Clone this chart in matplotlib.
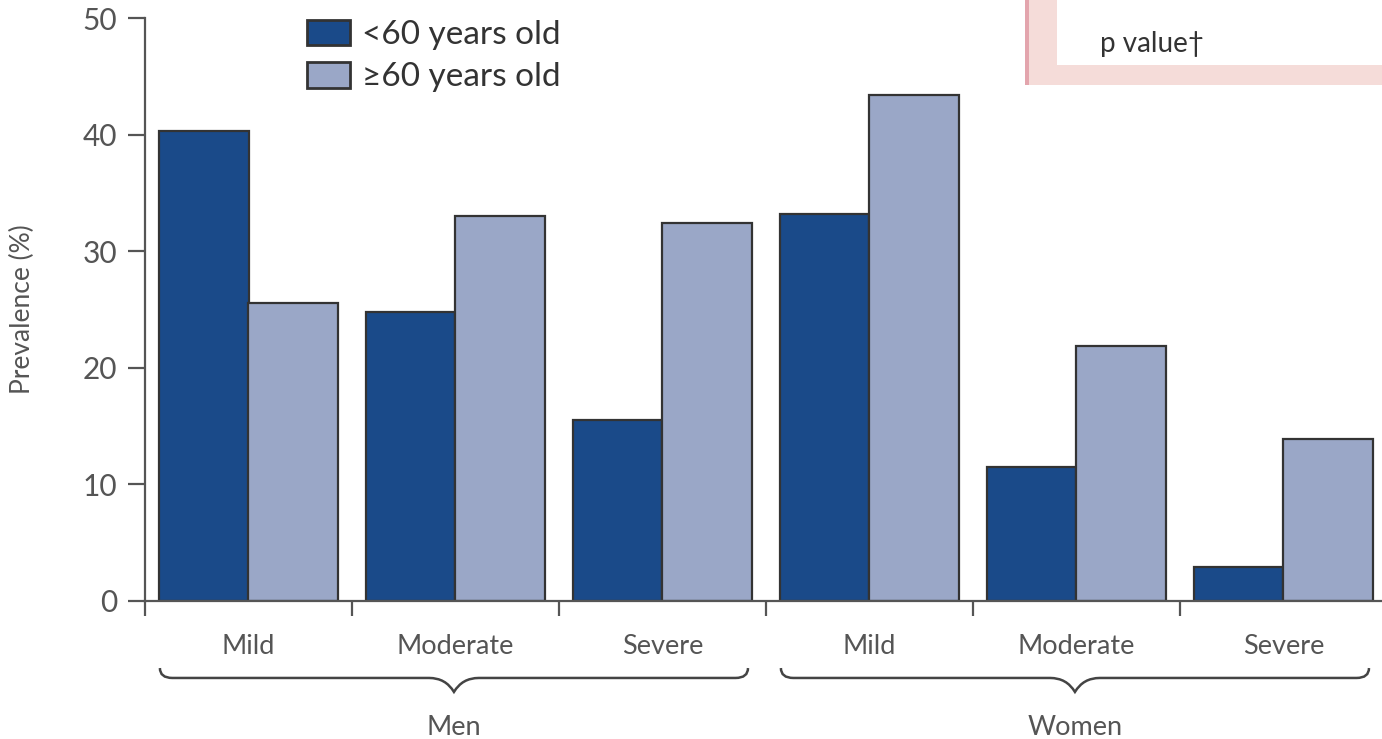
import matplotlib
matplotlib.use("Agg")
import matplotlib.pyplot as plt
import numpy as np
from matplotlib.path import Path
from matplotlib.patches import PathPatch, Rectangle
from matplotlib.transforms import blended_transform_factory

plt.rcParams['font.family'] = ['Lato', 'DejaVu Sans']

categories = ["Mild", "Moderate", "Severe", "Mild", "Moderate", "Severe"]
groups = ["Men", "Women"]
under60 = [40.3, 24.8, 15.5, 33.2, 11.5, 2.9]
over60 = [25.6, 33.0, 32.4, 43.4, 21.9, 13.9]
series_labels = ["<60 years old", "\u226560 years old"]
yticks = [0, 10, 20, 30, 40, 50]

W, H = 1382, 739
fig = plt.figure(figsize=(W / 100, H / 100), dpi=100)
ax = fig.add_axes([145 / W, (H - 601) / H, 1242 / W, 583 / H])

dark = "#1a4a89"
light = "#9aa7c7"
edge = "#333333"
textc = "#555555"

x = np.arange(len(categories))
bw = 0.43
ax.bar(x - bw / 2, under60, bw, color=dark, edgecolor=edge, linewidth=1.6,
       label=series_labels[0])
ax.bar(x + bw / 2, over60, bw, color=light, edgecolor=edge, linewidth=1.6,
       label=series_labels[1])

ax.set_xlim(-0.5, 5.5)
ax.set_ylim(0, 50)
ax.set_yticks(yticks)
ax.set_yticklabels([str(v) for v in yticks], fontsize=21.5, color=textc)
ax.tick_params(axis='y', length=12, width=1.6, color="#555555", pad=8)

# x ticks at category boundaries
ax.set_xticks(np.arange(-0.5, 6.0, 1.0))
ax.set_xticklabels([])
ax.tick_params(axis='x', length=11, width=1.6, color="#555555")
ax.set_xticks(x, minor=True)
ax.set_xticklabels(categories, minor=True, fontsize=19.5, color=textc)
ax.tick_params(axis='x', which='minor', length=0, pad=24)

for s in ['top', 'right']:
    ax.spines[s].set_visible(False)
for s in ['left', 'bottom']:
    ax.spines[s].set_linewidth(1.6)
    ax.spines[s].set_color("#555555")

ax.set_ylabel("Prevalence (%)", fontsize=19, color=textc)
ax.yaxis.set_label_coords(-110 / 1242, 0.5)

# Braces
trans = blended_transform_factory(ax.transData, ax.transAxes)
def brace(x0, x1, label):
    xm = (x0 + x1) / 2
    yt, yl, yp = -0.115, -0.132, -0.156
    r = 0.06
    verts = [(x0, yt), (x0, yl), (x0 + r, yl),
             (xm - 0.12, yl), (xm - 0.04, yl), (xm, yp),
             (xm + 0.04, yl), (xm + 0.12, yl),
             (x1 - r, yl), (x1, yl), (x1, yt)]
    codes = [Path.MOVETO, Path.CURVE3, Path.CURVE3,
             Path.LINETO, Path.CURVE3, Path.CURVE3,
             Path.CURVE3, Path.CURVE3,
             Path.LINETO, Path.CURVE3, Path.CURVE3]
    p = PathPatch(Path(verts, codes), transform=trans, fill=False,
                  edgecolor="#444444", linewidth=1.8, clip_on=False)
    ax.add_patch(p)
    ax.text(xm, -0.217, label, transform=trans, ha='center', va='center',
            fontsize=19.5, color=textc)

brace(-0.428, 2.413, groups[0])
brace(2.572, 5.413, groups[1])

leg = ax.legend(loc='upper left', bbox_to_anchor=(162 / 1242, 0.997), frameon=False,
                fontsize=24, handlelength=1.3, handleheight=0.8,
                handletextpad=0.36, labelspacing=0.36, borderaxespad=0, borderpad=0)
for t in leg.get_texts():
    t.set_color("#333333")
for h in leg.legend_handles:
    h.set_linewidth(2.0)

# Overlay fragment at top right (pink box)
fig.patches.append(Rectangle((1025 / W, (H - 85) / H), (W - 1025) / W, 85 / H,
                             transform=fig.transFigure, facecolor="#f5dcd9",
                             edgecolor='none', zorder=10))
fig.patches.append(Rectangle((1025 / W, (H - 85) / H), 4 / W, 85 / H,
                             transform=fig.transFigure, facecolor="#e3a5ad",
                             edgecolor='none', zorder=11))
fig.patches.append(Rectangle((1057 / W, (H - 65) / H), (W - 1057) / W, 65 / H,
                             transform=fig.transFigure, facecolor="white",
                             edgecolor='none', zorder=11))
fig.text(1100 / W, (H - 44) / H, "p value\u2020", fontsize=20, color="#333333",
         va='center', ha='left', zorder=12)

fig.savefig("out.png", dpi=100)
